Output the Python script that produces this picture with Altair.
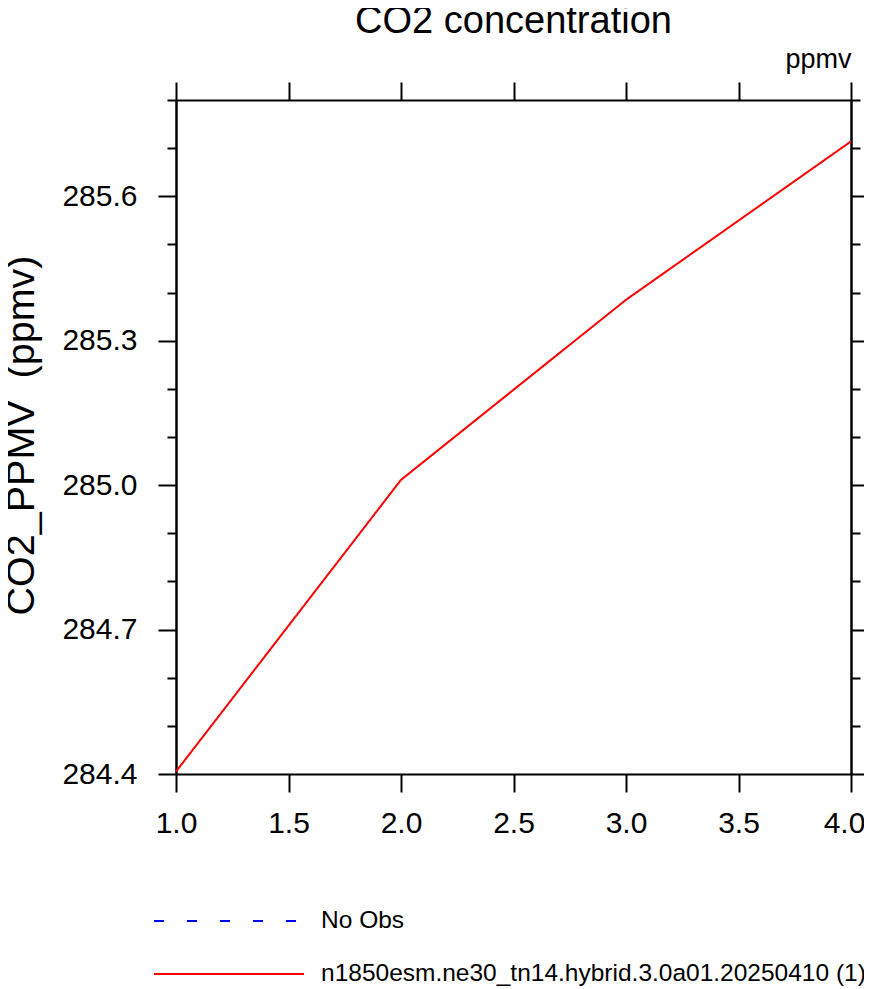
import altair as alt
import pandas as pd

# model years and global mean CO2
years = [1, 2, 3, 4]
co2_ppmv = [284.405, 285.011, 285.385, 285.714]

case_name = "n1850esm.ne30_tn14.hybrid.3.0a01.20250410 (1)"
obs_name = "No Obs"

x_major = [1.0, 1.5, 2.0, 2.5, 3.0, 3.5, 4.0]
y_major = [284.4, 284.7, 285.0, 285.3, 285.6]
y_minor = [284.5, 284.6, 284.8, 284.9, 285.1, 285.2, 285.4, 285.5, 285.7, 285.8]

FONT = "Liberation Sans"

df = pd.DataFrame({"year": years, "co2": co2_ppmv, "case": [case_name] * len(years)})

xs = alt.Scale(domain=[1, 4], nice=False, zero=False)
ys = alt.Scale(domain=[284.4, 285.8], nice=False, zero=False)


def ax(orient, values, size, **kw):
    opts = dict(orient=orient, values=values, tickSize=size, tickWidth=2,
                tickColor="black", domainColor="black", domainWidth=2,
                labels=False, labelFlush=False, grid=False, title="")
    opts.update(kw)
    return alt.Axis(**opts)


def blank(orient):
    return alt.Axis(orient=orient, domain=False, ticks=False, labels=False,
                    grid=False, title="")


legend = alt.Legend(
    orient="none", legendX=-23, legendY=807, direction="vertical",
    symbolType="stroke", symbolSize=22500, symbolStrokeWidth=2,
    clipHeight=28, labelFontSize=24.5, labelFont=FONT, labelColor="black",
    labelLimit=800, labelOffset=16, rowPadding=25, padding=0,
    title="", titlePadding=0,
)

line = alt.Chart(df).mark_line(strokeWidth=2).encode(
    x=alt.X("year:Q", scale=xs,
            axis=ax("bottom", x_major, 18, labels=True, format=".1f",
                    labelFontSize=30, labelPadding=16,
                    # keep the last label inside the page edge
                    labelOffset={"expr": "datum.value == 4 ? -7 : 0"})),
    y=alt.Y("co2:Q", scale=ys,
            axis=ax("left", y_major, 18, labels=True, format=".1f",
                    labelFontSize=30, labelPadding=21,
                    title="CO2_PPMV \u00a0(ppmv)", titleFontSize=39.5,
                    titleX=-143, titleY=335, titleAngle=-90,
                    titleAlign="center", titleBaseline="alphabetic")),
    color=alt.Color("case:N", legend=legend,
                    scale=alt.Scale(domain=[obs_name, case_name],
                                    range=["#0000ff", "#ff0000"])),
    strokeDash=alt.StrokeDash("case:N", legend=legend,
                              scale=alt.Scale(domain=[obs_name, case_name],
                                              range=[[10, 23], [1, 0]])),
)

top_minor = alt.Chart(df).mark_line(opacity=0).encode(
    x=alt.X("year:Q", scale=xs,
            axis=ax("top", x_major, 18, title="ppmv", titleFontSize=27,
                    titleX=675, titleY=-33, titleAlign="right",
                    titleBaseline="alphabetic", titleAngle=0)),
    y=alt.Y("co2:Q", scale=ys, axis=ax("left", y_minor, 9)),
)

right_major = alt.Chart(df).mark_line(opacity=0).encode(
    x=alt.X("year:Q", scale=xs, axis=blank("bottom")),
    y=alt.Y("co2:Q", scale=ys, axis=ax("right", y_major, 18)),
)

right_minor = alt.Chart(df).mark_line(opacity=0).encode(
    x=alt.X("year:Q", scale=xs, axis=blank("top")),
    y=alt.Y("co2:Q", scale=ys, axis=ax("right", y_minor, 9)),
)

chart = alt.layer(top_minor, right_major, right_minor, line).resolve_axis(
    x="independent", y="independent"
).properties(
    width=675,
    height=674,
    autosize=alt.AutoSizeParams(type="none"),
    padding={"left": 168, "top": 92, "right": 13, "bottom": 212},
    title=alt.TitleParams("CO2 concentration", fontSize=38, font=FONT,
                          fontWeight="normal", color="black",
                          anchor="middle", frame="group", offset=4),
).configure_axis(
    labelFont=FONT, titleFont=FONT, labelColor="black", titleColor="black",
    titleFontWeight="normal",
).configure_view(strokeWidth=0)

chart.save("out.html", embed_options={"renderer": "svg", "actions": False})
